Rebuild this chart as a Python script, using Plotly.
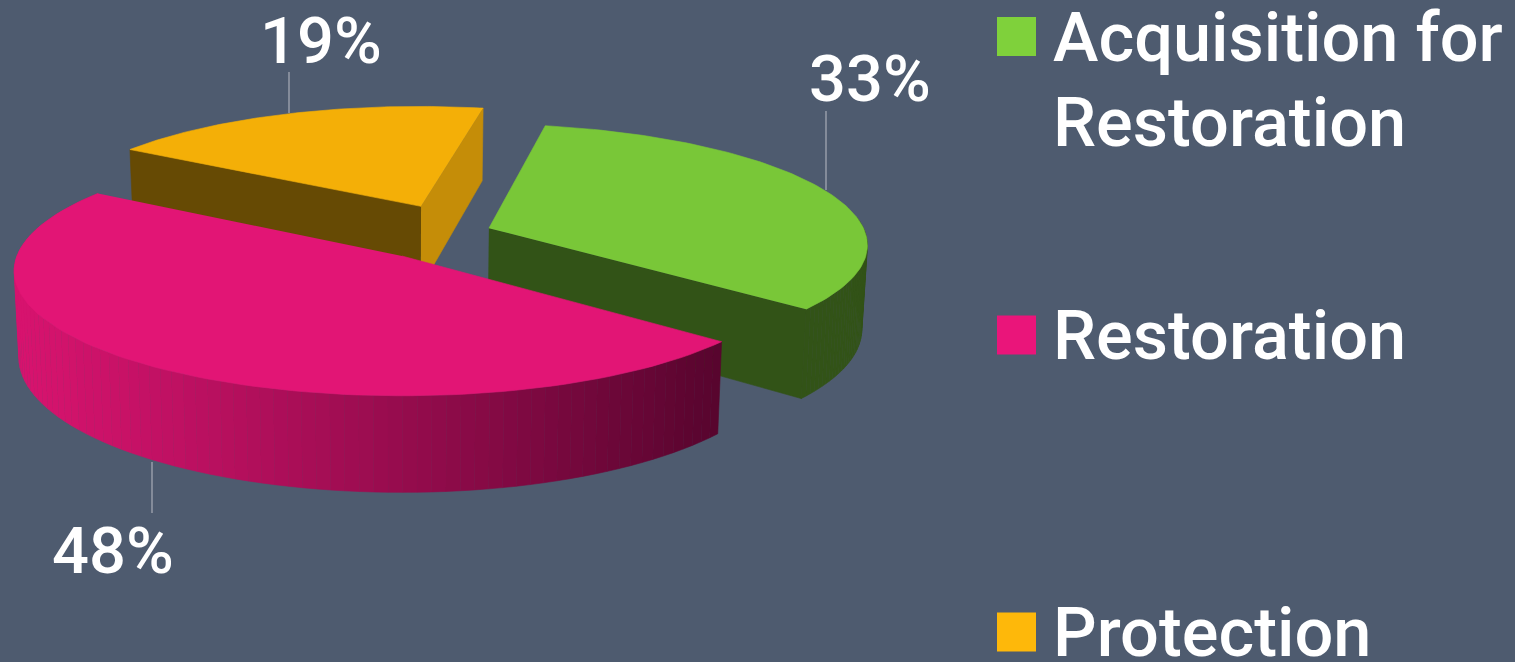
import numpy as np
import plotly.graph_objects as go

legend_lines = [["Acquisition for", "Restoration"], ["Restoration"], ["Protection"]]
shares = [33, 48, 19]
colors = ["#79C738", "#E21575", "#F4AF07"]
legend_colors = ["#7FD13B", "#EA157A", "#FEB80A"]

BG = "#4E5B6F"
W, H = 1515, 662
# projection of the unit-disc onto the picture
CX, CY, A, B, K, DEPTH, SHRINK = 402, 256, 385, 123, 0.12, 85, 0.988
START = -78.8
OFFS = [(0.232, -0.232), (0.0, 0.0), (0.052, -0.424)]


def proj(u, v, z=0.0):
    s = 1 / (1 - K * v)
    f = 1 - (1 - SHRINK) * z
    return CX + A * u * s * f, CY + B * v * s + DEPTH * s * z


def poly(fig, xs, ys, color):
    fig.add_trace(go.Scatter(x=list(xs), y=list(ys), mode="lines", fill="toself", fillcolor=color,
                             line=dict(color=color, width=0.6), hoverinfo="skip", showlegend=False))


def rim(i, a0, a1, n=100):
    ou, ov = OFFS[i]
    t = np.radians(np.linspace(a0, a1, n))
    return ou + np.cos(t), ov + np.sin(t)


def face(fig, pu, pv, color):
    top = proj(pu, pv, 0)
    bot = proj(pu, pv, 1)
    poly(fig, np.r_[top[0], bot[0][::-1]], np.r_[top[1], bot[1][::-1]], color)


# slice angles from the shares
ang = [START]
for sh in shares:
    ang.append(ang[-1] + sh * 3.6)
spans = {0: (ang[0], ang[1]), 1: (ang[1], ang[2]), 2: (ang[2], ang[3])}

fig = go.Figure()

# Protection (back)
ou, ov = OFFS[2]
u, v = rim(2, *spans[2])
face(fig, np.array([ou, u[0]]), np.array([ov, v[0]]), "#664A04")
face(fig, np.array([ou, u[-1]]), np.array([ov, v[-1]]), "#C58D08")
tx, ty = proj(np.r_[ou, u], np.r_[ov, v])
poly(fig, tx, ty, colors[2])

# Acquisition for Restoration
ou, ov = OFFS[0]
u, v = rim(0, *spans[0])
face(fig, np.array([ou, u[-1]]), np.array([ov, v[-1]]), "#325317")
for j in range(len(u) - 1):
    if v[j] > -0.35:
        face(fig, u[j:j + 2], v[j:j + 2], "#325317")
tx, ty = proj(np.r_[ou, u], np.r_[ov, v])
poly(fig, tx, ty, colors[0])

# Restoration (front) with shaded wall
a0, a1 = spans[1]
STRIPS = 90
edges = np.linspace(a1, a0, STRIPS + 1)
c_l, c_r = np.array([216, 20, 111]), np.array([88, 5, 46])
for j in range(STRIPS):
    u, v = rim(1, edges[j], edges[j + 1], 2)
    mx = proj(u.mean(), v.mean())[0]
    t = np.clip((mx - 13) / 707, 0, 1) ** 1.12
    c = c_l + (c_r - c_l) * t
    face(fig, u, v, "rgb(%d,%d,%d)" % tuple(c))
ou, ov = OFFS[1]
u, v = rim(1, a0, a1)
tx, ty = proj(np.r_[ou, u], np.r_[ov, v])
poly(fig, tx, ty, colors[1])

# leader lines and value labels
label_pos = [(870, 79), (113, 551), (321, 41)]
leaders = [((826, 826), (111, 190)), ((152, 152), (462, 513)), ((289, 289), (72, 113))]
for lx, ly in leaders:
    fig.add_trace(go.Scatter(x=lx, y=ly, mode="lines", line=dict(color="#A9AEB7", width=1.2),
                             hoverinfo="skip", showlegend=False))
FONT = "Roboto, Liberation Sans, sans-serif"
for sh, (x, y) in zip(shares, label_pos):
    fig.add_annotation(x=x, y=y, text=f"{sh}%", showarrow=False, xanchor="center", yanchor="middle",
                       font=dict(family=FONT, size=65, color="white", weight=500))

# legend
swatch_y = [36.5, 335, 632]
text_y = [[37, 122], [335], [632]]
for lines, col, sy, tys in zip(legend_lines, legend_colors, swatch_y, text_y):
    fig.add_shape(type="rect", x0=997, x1=1036, y0=sy - 19.5, y1=sy + 19.5, fillcolor=col, line_width=0)
    for line, ty_ in zip(lines, tys):
        fig.add_annotation(x=1051, y=ty_, text=line, showarrow=False, xanchor="left", yanchor="middle",
                           align="left", font=dict(family=FONT, size=68.5, color="white", weight=500))

fig.update_layout(width=W, height=H, margin=dict(l=0, r=0, t=0, b=0), paper_bgcolor=BG, plot_bgcolor=BG,
                  showlegend=False,
                  xaxis=dict(range=[0, W], visible=False, fixedrange=True),
                  yaxis=dict(range=[H, 0], visible=False, fixedrange=True))
fig.write_html("out.html", config=dict(displayModeBar=False),
               post_script="document.body.style.margin='0';document.body.style.overflow='hidden';document.body.style.background='%s';" % BG)
